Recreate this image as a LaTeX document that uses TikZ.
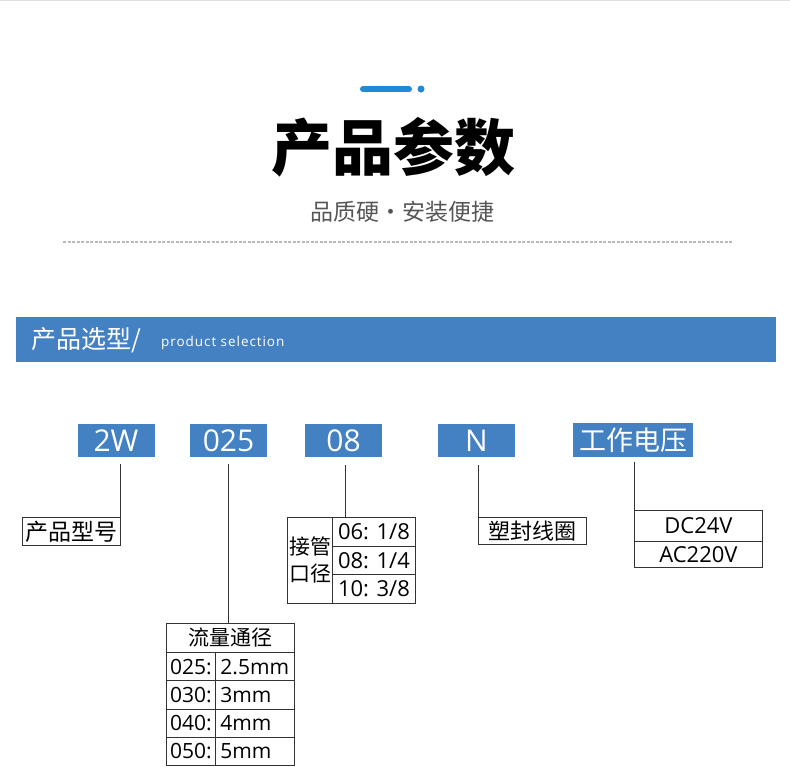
\documentclass[tikz,border=0pt]{standalone}
\usepackage{fontspec}
\setmainfont{Open Sans}
\newfontfamily\cjk{Noto Sans CJK SC}
\newfontfamily\spaced[LetterSpace=7]{Open Sans}
\usetikzlibrary{positioning}
\definecolor{bannerblue}{HTML}{4481C3}
\definecolor{accentblue}{HTML}{1F8AD5}
\definecolor{linegray}{HTML}{333333}
\definecolor{subgray}{HTML}{555555}
\newcommand\pxsize[1]{\fontsize{#1}{#1}\selectfont}

\begin{document}
\begin{tikzpicture}[x=1pt, y=-1pt,
    tag/.style={fill=bannerblue, text=white, inner sep=0pt, minimum height=33pt, minimum width=77pt, font=\pxsize{30}},
    cell/.style={draw=linegray, line width=0.9pt, inner sep=0pt, anchor=north west},
    leader/.style={draw=linegray, line width=0.9pt}]
    \useasboundingbox (0,0) rectangle (790,766);

    % Kopf
    \draw[gray!25, line width=1pt] (0,0.5) -- (790,0.5);
    \draw[accentblue, line width=6pt, line cap=round] (363,89) -- (409,89);
    \fill[accentblue] (421,89) circle (3.5);
    \node[font={\cjk\bfseries\pxsize{61}}] (title) at (393,147) {产品参数};
    \node[font={\cjk\pxsize{23}}, text=subgray] (subtitle) at (402,212) {品质硬·安装便捷};
    \draw[gray!55, line width=1.3pt, dash pattern=on 3pt off 1.5pt] (63,242) -- (733,242);

    % Balken
    \fill[bannerblue] (16,317) rectangle (776,362);
    \node[anchor=west, inner sep=0pt, text=white, font={\cjk\pxsize{25}}] (bannertitle) at (31,340) {产品选型/};
    \node[anchor=west, inner sep=0pt, text=white, font={\spaced\pxsize{13.5}}] (bannersub) at (161,343) {product selection};

    % Kennzeichen
    \node[tag] (tag2W) at (116,440.5) {2W};
    \node[tag] (tag025) at (228.5,440.5) {025};
    \node[tag] (tag08) at (343.5,440.5) {08};
    \node[tag] (tagN) at (476.5,440.5) {N};
    \node[tag, minimum width=120pt, minimum height=34pt, font={\cjk\pxsize{27}}] (tagV) at (633,440) {工作电压};

    % Produkttyp
    \node[cell, minimum width=98pt, minimum height=28pt, font={\cjk\pxsize{23}}] (model) at (22,517) {产品型号};
    \draw[leader] ([yshift=-7pt]tag2W.south -| model.north east) -- (model.north east);

    % Nennweite
    \node[cell, minimum width=128pt, minimum height=29pt, font={\cjk\pxsize{21}}] (flowhead) at (166,623) {流量通径};
    \foreach \code/\size [count=\i from 0] in {025/2.5mm, 030/3mm, 040/4mm, 050/5mm} {
        \node[cell, minimum width=49pt, minimum height=28.25pt, font=\pxsize{21}] (flowcode\i) at (166,652+28.25*\i) {\code:};
        \node[cell, minimum width=79pt, minimum height=28.25pt, text width=69pt, inner xsep=5pt, align=left, font=\pxsize{21}] (flowsize\i) at (215,652+28.25*\i) {\size};
    }
    \draw[leader] ([yshift=-7pt]tag025.south) -- (tag025.south |- flowhead.north);

    % Anschluss
    \node[cell, minimum width=45pt, minimum height=86pt, text width=41pt, inner xsep=2pt, align=left, font={\cjk\fontsize{21}{27}\selectfont}] (portcap) at (287,517) {接管\\口径};
    \foreach \size [count=\i from 0] in {06: 1/8, 08: 1/4, 10: 3/8}
        \node[cell, minimum width=83pt, minimum height=28.67pt, font=\pxsize{22}] (port\i) at (332,517+28.67*\i) {\size};
    \coordinate (portjoin) at ([xshift=13pt]port0.north west);
    \draw[leader] ([yshift=-8pt]tag08.south -| portjoin) -- (portjoin);

    % Spule
    \node[cell, minimum width=108pt, minimum height=27pt, font={\cjk\pxsize{22}}] (coil) at (478,517) {塑封线圈};
    \draw[leader] ([yshift=-8pt]tagN.south -| coil.north west) -- (coil.north west);

    % Spannung
    \node[cell, minimum width=128pt, minimum height=31pt, font=\pxsize{22}] (volt0) at (634,510) {DC24V};
    \node[cell, minimum width=128pt, minimum height=26pt, font=\pxsize{22}] (volt1) at (634,541) {AC220V};
    \draw[leader] ([yshift=-5pt]tagV.south -| volt0.north west) -- (volt0.north west);
\end{tikzpicture}
\end{document}
